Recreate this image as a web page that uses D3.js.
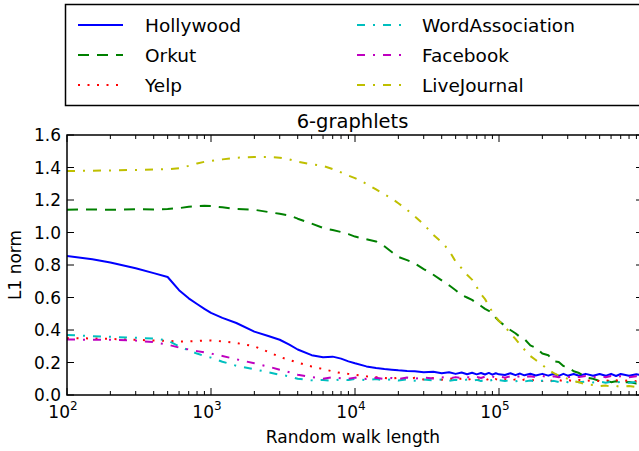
<!DOCTYPE html>
<html><head><meta charset="utf-8">
<script src="https://cdn.jsdelivr.net/npm/d3@7"></script>
<style>
html,body{margin:0;padding:0;background:#fff;overflow:hidden;}
text{font-family:"DejaVu Sans",sans-serif;fill:#000;}
</style></head>
<body><svg id="chart" width="639" height="451"></svg>
<script>
// ---------- data ----------
const walkLengths = [100,150,200,300,400,500,600,700,800,900,
  1000,1200,1500,2000,2500,3000,3500,4000,5000,6000,
  7000,8000,9000,10000,12000,14000,16000,18000,20000,23000,
  26000,30000,35000,40000,45000,50000,55000,60000,65000,70000,
  75000,80000,85000,90000,95000,100000,110000,120000,130000,140000,
  150000,165000,180000,200000,220000,240000,260000,280000,300000,330000,
  360000,400000,450000,500000,550000,600000,650000,700000,800000,900000,1000000];

const hollywood = [0.855,0.835,0.815,0.78,0.75,0.726,0.645,0.595,0.56,0.53,
  0.505,0.475,0.443,0.39,0.363,0.34,0.31,0.28,0.245,0.232,
  0.236,0.224,0.207,0.195,0.176,0.166,0.16,0.156,0.152,0.148,
  0.146,0.14,0.143,0.134,0.14,0.13,0.138,0.128,0.137,0.127,
  0.135,0.126,0.136,0.125,0.134,0.127,0.123,0.134,0.122,0.132,
  0.121,0.131,0.12,0.13,0.119,0.131,0.118,0.13,0.119,0.129,
  0.118,0.13,0.119,0.129,0.118,0.13,0.117,0.129,0.118,0.128,0.119];

const orkut = [1.14,1.142,1.14,1.143,1.142,1.145,1.15,1.158,1.163,1.165,
  1.163,1.155,1.145,1.14,1.126,1.115,1.105,1.085,1.055,1.028,
  1.015,1.003,0.99,0.975,0.958,0.945,0.915,0.88,0.85,0.83,
  0.81,0.775,0.74,0.705,0.675,0.645,0.615,0.6,0.585,0.565,
  0.548,0.53,0.518,0.5,0.475,0.455,0.425,0.4,0.38,0.357,
  0.345,0.305,0.29,0.255,0.245,0.207,0.203,0.178,0.172,0.146,
  0.135,0.108,0.1,0.086,0.09,0.079,0.084,0.077,0.08,0.071,0.074];

const yelp = [0.35,0.348,0.345,0.34,0.335,0.333,0.33,0.33,0.332,0.335,
  0.335,0.33,0.32,0.3,0.265,0.235,0.215,0.2,0.175,0.16,
  0.145,0.135,0.13,0.125,0.115,0.11,0.105,0.1,0.107,0.096,
  0.106,0.095,0.105,0.094,0.104,0.093,0.102,0.092,0.101,0.091,
  0.1,0.09,0.099,0.089,0.098,0.09,0.097,0.088,0.096,0.087,
  0.095,0.088,0.094,0.086,0.093,0.085,0.092,0.086,0.092,0.085,
  0.092,0.086,0.091,0.085,0.091,0.085,0.091,0.084,0.091,0.085,0.09];

const wordAssociation = [0.37,0.362,0.358,0.352,0.348,0.335,0.3,0.275,0.255,0.24,
  0.23,0.205,0.18,0.158,0.14,0.125,0.115,0.1,0.09,0.092,
  0.088,0.096,0.092,0.099,0.091,0.098,0.09,0.097,0.089,0.096,
  0.088,0.095,0.089,0.096,0.087,0.094,0.088,0.095,0.087,0.093,
  0.086,0.094,0.087,0.093,0.085,0.092,0.086,0.091,0.084,0.09,
  0.083,0.089,0.082,0.088,0.081,0.087,0.08,0.086,0.079,0.084,
  0.078,0.083,0.077,0.082,0.076,0.081,0.076,0.081,0.075,0.08,0.076];

const facebook = [0.342,0.34,0.34,0.335,0.325,0.31,0.292,0.28,0.27,0.262,
  0.255,0.24,0.22,0.195,0.175,0.155,0.14,0.125,0.11,0.1,
  0.109,0.103,0.1,0.107,0.099,0.106,0.098,0.105,0.099,0.107,
  0.1,0.108,0.101,0.109,0.102,0.11,0.103,0.111,0.104,0.112,
  0.105,0.113,0.106,0.113,0.107,0.114,0.107,0.115,0.108,0.116,
  0.108,0.116,0.109,0.117,0.109,0.116,0.109,0.117,0.109,0.116,
  0.11,0.117,0.109,0.116,0.109,0.117,0.11,0.116,0.109,0.116,0.111];

const liveJournal = [1.378,1.38,1.382,1.385,1.388,1.39,1.395,1.41,1.425,1.435,
  1.44,1.45,1.46,1.465,1.465,1.46,1.45,1.435,1.42,1.41,
  1.39,1.37,1.35,1.335,1.3,1.265,1.235,1.21,1.18,1.14,
  1.1,1.05,0.985,0.94,0.89,0.82,0.78,0.74,0.71,0.665,
  0.62,0.59,0.55,0.51,0.48,0.455,0.42,0.38,0.345,0.31,
  0.28,0.24,0.215,0.185,0.155,0.135,0.12,0.11,0.1,0.085,
  0.078,0.064,0.062,0.054,0.058,0.052,0.056,0.05,0.055,0.049,0.053];

const seriesNames = ["Hollywood","Orkut","Yelp","WordAssociation","Facebook","LiveJournal"];
const seriesValues = [hollywood, orkut, yelp, wordAssociation, facebook, liveJournal];
const yTickValues = [0.0,0.2,0.4,0.6,0.8,1.0,1.2,1.4,1.6];
const xMajorExponents = [2,3,4,5,6];
const xLabelExponents = [2,3,4,5];
const chartTitle = "6-graphlets";
const xAxisLabel = "Random walk length";
const yAxisLabel = "L1 norm";

// ---------- styles ----------
const styles = [
  {color:"#0000ff", dash:null},
  {color:"#008000", dash:"11,8"},
  {color:"#ff0000", dash:"2,7.5"},
  {color:"#00bfbf", dash:"8,8,2,8"},
  {color:"#bf00bf", dash:"8,8,2,8"},
  {color:"#bfbf00", dash:"8,8,2,8"}
];

const svg = d3.select("#chart");
const L = 67, R = 643, T = 135, B = 395;

const x = d3.scaleLog().domain([100, 1e6]).range([L, R]);
const y = d3.scaleLinear().domain([0, 1.6]).range([B, T]);

svg.append("defs").append("clipPath").attr("id","clip")
  .append("rect").attr("x",L).attr("y",T).attr("width",R-L).attr("height",B-T);

// lines
const line = d3.line().x(d => x(d[0])).y(d => y(d[1]));
const g = svg.append("g").attr("clip-path","url(#clip)");
seriesValues.forEach((vals, i) => {
  const pts = walkLengths.map((w, k) => [w, vals[k]]);
  g.append("path").datum(pts)
    .attr("d", line)
    .attr("fill","none")
    .attr("stroke", styles[i].color)
    .attr("stroke-width", 2)
    .attr("stroke-linejoin","round")
    .attr("stroke-dasharray", styles[i].dash);
});

// axes with inward ticks
const majorX = xMajorExponents.map(e => Math.pow(10, e));
const minorX = [];
for (let e = 2; e < 6; e++) for (let m = 2; m <= 9; m++) minorX.push(m * Math.pow(10, e));

function addXAxis(yPos, dir) {
  const ax = svg.append("g");
  majorX.forEach(v => ax.append("line").attr("x1",x(v)).attr("x2",x(v))
    .attr("y1",yPos).attr("y2",yPos + dir*7).attr("stroke","#000").attr("stroke-width",1));
  minorX.forEach(v => ax.append("line").attr("x1",x(v)).attr("x2",x(v))
    .attr("y1",yPos).attr("y2",yPos + dir*4).attr("stroke","#000").attr("stroke-width",1));
}
addXAxis(B, -1);
addXAxis(T, 1);

function addYTicks(xPos, dir) {
  yTickValues.forEach(v => svg.append("line").attr("x1",xPos).attr("x2",xPos + dir*7)
    .attr("y1",y(v)).attr("y2",y(v)).attr("stroke","#000").attr("stroke-width",1));
}
addYTicks(L, 1);
addYTicks(R, -1);

// frame
svg.append("rect").attr("x",L).attr("y",T).attr("width",R-L).attr("height",B-T)
  .attr("fill","none").attr("stroke","#000").attr("stroke-width",1.5);

// y tick labels
yTickValues.forEach(v => svg.append("text")
  .attr("x", L - 6).attr("y", y(v) + 6)
  .attr("text-anchor","end").attr("font-size","17px")
  .text(v.toFixed(1)));

// x tick labels 10^e
xLabelExponents.forEach(e => {
  const t = svg.append("text").attr("x", x(Math.pow(10,e)) - 4).attr("y", 418)
    .attr("text-anchor","middle").attr("font-size","17px");
  t.append("tspan").text("10");
  t.append("tspan").attr("dy",-8).attr("font-size","12px").text(String(e));
});

// title & axis labels
svg.append("text").attr("x",(L+638)/2).attr("y",128).attr("text-anchor","middle")
  .attr("font-size","19.5px").text(chartTitle);
svg.append("text").attr("x",353).attr("y",443).attr("text-anchor","middle")
  .attr("font-size","17px").text(xAxisLabel);
svg.append("text").attr("transform","translate(21,265) rotate(-90)")
  .attr("text-anchor","middle").attr("font-size","17px").text(yAxisLabel);

// legend
const lg = svg.append("g");
lg.append("rect").attr("x",65.5).attr("y",4.5).attr("width",620).attr("height",101)
  .attr("fill","#fff").attr("stroke","#000").attr("stroke-width",1.5);
const cols = [{x1:78, x2:123, tx:145}, {x1:357, x2:403, tx:422}];
seriesNames.forEach((name, i) => {
  const c = cols[Math.floor(i/3)];
  const ry = 25 + (i % 3) * 30;
  lg.append("line").attr("x1",c.x1).attr("x2",c.x2).attr("y1",ry).attr("y2",ry)
    .attr("stroke",styles[i].color).attr("stroke-width",2)
    .attr("stroke-dasharray",styles[i].dash);
  lg.append("text").attr("x",c.tx).attr("y",ry+6.7).attr("font-size","18.5px").text(name);
});
</script></body></html>
